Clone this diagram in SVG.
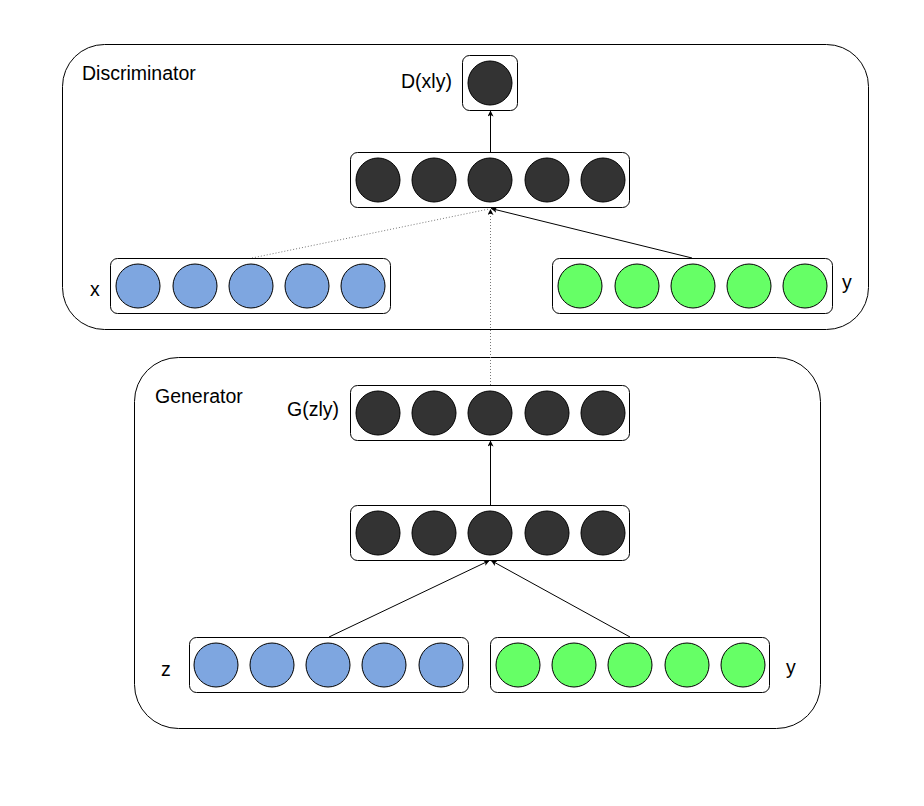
<svg xmlns="http://www.w3.org/2000/svg" width="924" height="806" viewBox="0 0 924 806">
<style>
.outer{fill:none;stroke:#000;stroke-width:1}
.layer{fill:#fff;stroke:#000;stroke-width:1}
.dark{fill:#333333;stroke:#000;stroke-width:1}
.blue{fill:#7EA6E0;stroke:#000;stroke-width:1}
.green{fill:#66FF66;stroke:#000;stroke-width:1}
.lbl{font-family:"Liberation Sans",Arial,sans-serif;font-size:19.5px;fill:#000}
.edge{fill:none;stroke:#000;stroke-width:1}
.dot{fill:none;stroke:#777;stroke-width:1;stroke-dasharray:1 2}
</style>
<defs>
<marker id="arr" markerUnits="userSpaceOnUse" markerWidth="8" markerHeight="8" refX="6" refY="3" orient="auto">
<path d="M0,0 L6,3 L0,6 L1.5,3 z" fill="#000"/>
</marker>
</defs>
<rect x="0" y="0" width="924" height="806" fill="#fff"/>

<g id="discriminator">
<rect class="outer" x="62.5" y="44.5" width="806" height="285" rx="42" ry="42"/>
<text class="lbl" x="82" y="80">Discriminator</text>
</g>
<g id="generator">
<rect class="outer" x="134.5" y="357.5" width="686" height="371" rx="44" ry="44"/>
<text class="lbl" x="155" y="403">Generator</text>
</g>

<g id="connectors">
<line class="edge" x1="490.5" y1="152" x2="490.5" y2="110.5" marker-end="url(#arr)"/>
<line class="dot" x1="252" y1="258" x2="489" y2="209"/>
<line class="edge" x1="692" y1="258" x2="491" y2="208.5" marker-end="url(#arr)"/>
<line class="dot" x1="490.5" y1="385" x2="490.5" y2="209" marker-end="url(#arr)"/>
<line class="edge" x1="490.5" y1="505" x2="490.5" y2="440.5" marker-end="url(#arr)"/>
<line class="edge" x1="329" y1="637" x2="489.5" y2="560.5" marker-end="url(#arr)"/>
<line class="edge" x1="630" y1="637" x2="491" y2="560.5" marker-end="url(#arr)"/>
</g>

<g id="d_out">
<rect class="layer" x="462.5" y="55.5" width="55" height="55" rx="7" ry="7"/>
<circle class="dark" cx="490" cy="83" r="22"/>
<text class="lbl" x="401" y="88">D(xly)</text>
</g>

<g id="d_hidden">
<rect class="layer" x="350.5" y="152.5" width="279" height="55" rx="7" ry="7"/>
<circle class="dark" cx="378" cy="180" r="22"/>
<circle class="dark" cx="434" cy="180" r="22"/>
<circle class="dark" cx="490" cy="180" r="22"/>
<circle class="dark" cx="547" cy="180" r="22"/>
<circle class="dark" cx="603" cy="180" r="22"/>
</g>

<g id="d_x">
<rect class="layer" x="110.5" y="258.5" width="280" height="55" rx="7" ry="7"/>
<circle class="blue" cx="138" cy="286" r="22"/>
<circle class="blue" cx="195" cy="286" r="22"/>
<circle class="blue" cx="251" cy="286" r="22"/>
<circle class="blue" cx="307" cy="286" r="22"/>
<circle class="blue" cx="363" cy="286" r="22"/>
<text class="lbl" x="90" y="296">x</text>
</g>

<g id="d_y">
<rect class="layer" x="552.5" y="258.5" width="280" height="55" rx="7" ry="7"/>
<circle class="green" cx="580" cy="286" r="22"/>
<circle class="green" cx="637" cy="286" r="22"/>
<circle class="green" cx="693" cy="286" r="22"/>
<circle class="green" cx="749" cy="286" r="22"/>
<circle class="green" cx="805" cy="286" r="22"/>
<text class="lbl" x="842" y="289">y</text>
</g>

<g id="g_out">
<rect class="layer" x="350.5" y="385.5" width="279" height="55" rx="7" ry="7"/>
<circle class="dark" cx="378" cy="413" r="22"/>
<circle class="dark" cx="434" cy="413" r="22"/>
<circle class="dark" cx="490" cy="413" r="22"/>
<circle class="dark" cx="547" cy="413" r="22"/>
<circle class="dark" cx="603" cy="413" r="22"/>
<text class="lbl" x="287" y="416">G(zly)</text>
</g>

<g id="g_hidden">
<rect class="layer" x="350.5" y="505.5" width="279" height="55" rx="7" ry="7"/>
<circle class="dark" cx="378" cy="533" r="22"/>
<circle class="dark" cx="434" cy="533" r="22"/>
<circle class="dark" cx="490" cy="533" r="22"/>
<circle class="dark" cx="547" cy="533" r="22"/>
<circle class="dark" cx="603" cy="533" r="22"/>
</g>

<g id="g_z">
<rect class="layer" x="189.5" y="637.5" width="279" height="55" rx="7" ry="7"/>
<circle class="blue" cx="216" cy="665" r="22"/>
<circle class="blue" cx="272" cy="665" r="22"/>
<circle class="blue" cx="328" cy="665" r="22"/>
<circle class="blue" cx="384" cy="665" r="22"/>
<circle class="blue" cx="441" cy="665" r="22"/>
<text class="lbl" x="161" y="676">z</text>
</g>

<g id="g_y">
<rect class="layer" x="490.5" y="637.5" width="279" height="55" rx="7" ry="7"/>
<circle class="green" cx="518" cy="665" r="22"/>
<circle class="green" cx="574" cy="665" r="22"/>
<circle class="green" cx="630" cy="665" r="22"/>
<circle class="green" cx="687" cy="665" r="22"/>
<circle class="green" cx="743" cy="665" r="22"/>
<text class="lbl" x="786" y="674">y</text>
</g>
</svg>
